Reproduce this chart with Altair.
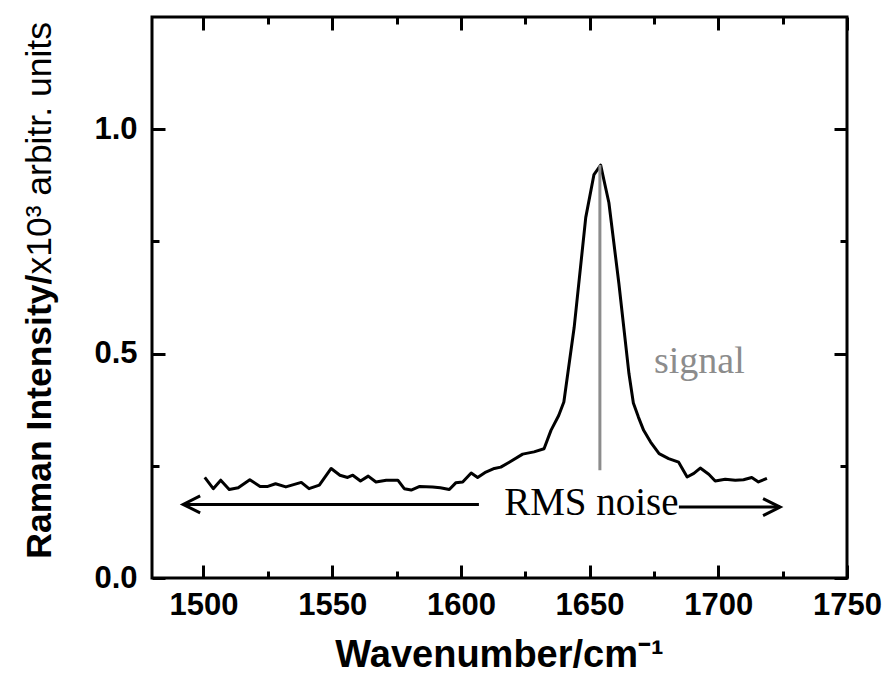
import altair as alt
import pandas as pd

# ---- data ----
wavenumber = [1500.5, 1503.8, 1506.7, 1510.0, 1513.5, 1518.0, 1522.0, 1525.0, 1528.0, 1532.0,
              1538.0, 1541.0, 1545.0, 1549.6, 1553.0, 1556.0, 1558.0, 1561.0, 1564.0, 1567.0,
              1571.0, 1575.5, 1578.0, 1580.7, 1584.0, 1589.0, 1592.0, 1595.5, 1598.0, 1600.7,
              1604.0, 1606.5, 1609.7, 1613.0, 1615.5, 1618.8, 1624.0, 1628.4, 1632.3, 1635.0,
              1638.0, 1640.0, 1644.0, 1648.5, 1651.7, 1654.3, 1657.5, 1661.4, 1665.3, 1667.0,
              1669.0, 1671.0, 1673.7, 1677.0, 1680.7, 1684.6, 1687.9, 1690.5, 1693.0, 1696.3,
              1698.8, 1702.7, 1706.6, 1709.8, 1713.0, 1715.6, 1718.9]
intensity = [0.224, 0.199, 0.218, 0.197, 0.201, 0.219, 0.204, 0.204, 0.210, 0.203,
             0.213, 0.199, 0.207, 0.244, 0.229, 0.224, 0.229, 0.216, 0.227, 0.214,
             0.218, 0.218, 0.199, 0.196, 0.204, 0.203, 0.201, 0.197, 0.212, 0.214,
             0.234, 0.224, 0.236, 0.244, 0.247, 0.258, 0.276, 0.281, 0.288, 0.329,
             0.362, 0.392, 0.558, 0.803, 0.899, 0.920, 0.836, 0.655, 0.455, 0.390,
             0.358, 0.329, 0.303, 0.277, 0.266, 0.258, 0.225, 0.233, 0.245, 0.231,
             0.216, 0.220, 0.218, 0.219, 0.224, 0.214, 0.222]

x_tick_values = [1500, 1525, 1550, 1575, 1600, 1625, 1650, 1675, 1700, 1725, 1750]
y_tick_values = [0.0, 0.25, 0.5, 0.75, 1.0]
x_domain = [1480, 1750]
y_domain = [0, 1.25]

signal_position = [1654]
signal_bottom = [0.24]
signal_top = [0.92]

signal_label = ["signal"]
signal_label_x = [1675]
signal_label_y = [0.456]

noise_label = ["RMS noise"]
noise_label_x = [1616.8]
noise_label_y = [0.14]

arrow_start = [1607.0, 1684.7]
arrow_end = [1492.1, 1724.0]
arrow_level = [0.164, 0.158]
arrow_dir = ["left", "right"]

x_title = "Wavenumber/cm\u207b\u00b9"
ytitle_bold = ["Raman Intensity/"]
ytitle_regular = ["x10\u00b3 arbitr. units"]
ytitle_junction = [0.676]

# ---- tables ----
spec_df = pd.DataFrame({"wn": wavenumber, "I": intensity})
sig_df = pd.DataFrame({"x": signal_position, "y0": signal_bottom, "y1": signal_top})
sig_txt_df = pd.DataFrame({"t": signal_label, "x": signal_label_x, "y": signal_label_y})
noise_df = pd.DataFrame({"t": noise_label, "x": noise_label_x, "y": noise_label_y})
arrow_df = pd.DataFrame({"start": arrow_start, "end": arrow_end, "level": arrow_level, "dir": arrow_dir})
ytb_df = pd.DataFrame({"t": ytitle_bold, "y": ytitle_junction})
ytr_df = pd.DataFrame({"t": ytitle_regular, "y": ytitle_junction})

FONT = "Liberation Sans"
SERIF = "Liberation Serif"

xscale = alt.Scale(domain=x_domain, nice=False, zero=False)
yscale = alt.Scale(domain=y_domain, nice=False, zero=False)

common = dict(domain=False, grid=False, tickColor="black", tickWidth=3,
              labelFont=FONT, labelFontWeight="bold", labelFontSize=31,
              labelColor="black", labelOverlap=False, labelFlush=False)

x_bottom = alt.Axis(orient="bottom", values=x_tick_values, format="d",
                    tickSize={"expr": "datum.value % 50 === 0 ? -13 : -7"},
                    labelExpr="datum.value % 50 === 0 ? datum.label : ''",
                    labelPadding=25,
                    title=x_title, titleFont=FONT, titleFontSize=38, titleFontWeight="bold",
                    titleColor="black", titleX=347, titleY=88, titleAlign="center",
                    titleBaseline="alphabetic", titleAnchor="start", **common)
y_left = alt.Axis(orient="left", values=y_tick_values, format=".1f",
                  tickSize={"expr": "datum.value % 0.5 === 0 ? -13 : -7"},
                  labelExpr="datum.value % 0.5 === 0 ? datum.label : ''",
                  labelPadding=28, title=None, **common)
x_top = alt.Axis(orient="top", values=x_tick_values, labels=False,
                 tickSize={"expr": "datum.value % 50 === 0 ? -13 : -7"},
                 title=None, domain=False, grid=False, tickColor="black", tickWidth=3)
y_right = alt.Axis(orient="right", values=y_tick_values, labels=False,
                   tickSize={"expr": "datum.value % 0.5 === 0 ? -13 : -7"},
                   title=None, domain=False, grid=False, tickColor="black", tickWidth=3)

line = alt.Chart(spec_df).mark_line(color="black", strokeWidth=3, strokeJoin="round").encode(
    x=alt.X("wn:Q", scale=xscale, axis=x_bottom),
    y=alt.Y("I:Q", scale=yscale, axis=y_left),
)

sig = alt.Chart(sig_df).mark_rule(color="#8c8c8c", strokeWidth=3).encode(
    x=alt.X("x:Q", scale=xscale, axis=x_top),
    y=alt.Y("y0:Q", scale=yscale, axis=y_right),
    y2="y1:Q",
)

shafts = alt.Chart(arrow_df).mark_rule(color="black", strokeWidth=3).encode(
    x=alt.X("start:Q", scale=xscale, axis=None),
    x2="end:Q",
    y=alt.Y("level:Q", scale=yscale, axis=None),
)

head_left = "M 2 -1 L 0 0 L 2 1"
head_right = "M -2 -1 L 0 0 L -2 1"
heads = alt.Chart(arrow_df).mark_point(filled=False, color="black", strokeWidth=3,
                                       size=289, opacity=1).encode(
    x=alt.X("end:Q", scale=xscale, axis=None),
    y=alt.Y("level:Q", scale=yscale, axis=None),
    shape=alt.Shape("dir:N", scale=alt.Scale(domain=["left", "right"], range=[head_left, head_right]),
                    legend=None),
)

sig_text = alt.Chart(sig_txt_df).mark_text(font=SERIF, fontSize=38, color="#8c8c8c",
                                           align="left", baseline="alphabetic").encode(
    x=alt.X("x:Q", scale=xscale, axis=None),
    y=alt.Y("y:Q", scale=yscale, axis=None),
    text="t:N",
)

noise_text = alt.Chart(noise_df).mark_text(font=SERIF, fontSize=39, color="black",
                                           align="left", baseline="alphabetic").encode(
    x=alt.X("x:Q", scale=xscale, axis=None),
    y=alt.Y("y:Q", scale=yscale, axis=None),
    text="t:N",
)

yt_bold = alt.Chart(ytb_df).mark_text(font=FONT, fontSize=35.5, fontWeight="bold", color="black",
                                      angle=270, align="right", baseline="alphabetic").encode(
    x=alt.value(-101),
    y=alt.Y("y:Q", scale=yscale, axis=None),
    text="t:N",
)

yt_reg = alt.Chart(ytr_df).mark_text(font=FONT, fontSize=35.5, fontWeight="normal", color="black",
                                     angle=270, align="left", baseline="alphabetic").encode(
    x=alt.value(-101),
    y=alt.Y("y:Q", scale=yscale, axis=None),
    text="t:N",
)

chart = alt.layer(line, sig, shafts, heads, sig_text, noise_text, yt_bold, yt_reg).resolve_axis(
    x="independent", y="independent"
).properties(
    width=695, height=561,
    padding={"left": 144, "top": 9, "right": 35, "bottom": 95},
    autosize=alt.AutoSizeParams(type="none"),
    background="white",
).configure_view(stroke="black", strokeWidth=3)

chart.save("out.html", embed_options={"renderer": "svg", "actions": False})
